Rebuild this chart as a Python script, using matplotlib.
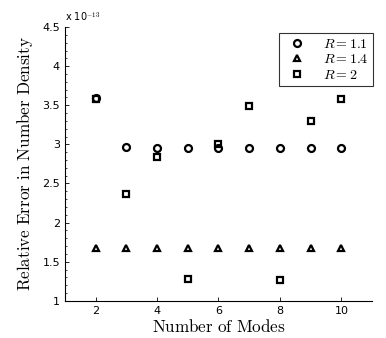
import matplotlib
matplotlib.use('Agg')
import matplotlib.pyplot as plt
from matplotlib.ticker import MultipleLocator

plt.rcParams['mathtext.fontset'] = 'cm'
plt.rcParams['font.family'] = 'DejaVu Sans'

modes = [2, 3, 4, 5, 6, 7, 8, 9, 10]
r11 = [3.59, 2.97, 2.96, 2.95, 2.95, 2.95, 2.95, 2.95, 2.95]
r14 = [1.67, 1.67, 1.67, 1.67, 1.67, 1.67, 1.67, 1.67, 1.67]
r2 = [3.58, 2.37, 2.84, 1.28, 3.01, 3.49, 1.27, 3.30, 3.58]

fig = plt.figure(figsize=(3.86, 3.38), dpi=100)
ax = fig.add_axes([0.168, 0.110, 0.796, 0.810])

mk = dict(linestyle='none', color='k', markerfacecolor='none', markeredgewidth=1.6, markersize=5)
ax.plot(modes, r11, marker='o', label=r'$R = 1.1$', **mk)
ax.plot(modes, r14, marker='^', label=r'$R = 1.4$', **mk)
ax.plot(modes, r2, marker='s', label=r'$R = 2$', **{**mk, 'markersize': 4.2})

ax.set_xlim(1, 11)
ax.set_ylim(1, 4.5)
ax.set_xticks([2, 4, 6, 8, 10])
ax.set_yticks([1, 1.5, 2, 2.5, 3, 3.5, 4, 4.5])
ax.set_yticklabels(['1', '1.5', '2', '2.5', '3', '3.5', '4', '4.5'])
ax.yaxis.set_minor_locator(MultipleLocator(0.1))
ax.tick_params(direction='in', labelsize=8, length=3, width=0.6)
ax.tick_params(which='minor', direction='in', length=1.5, width=0.5)
for s in ['top', 'right']:
    ax.spines[s].set_visible(False)
for s in ['left', 'bottom']:
    ax.spines[s].set_linewidth(0.8)

ax.set_xlabel(r'$\mathrm{Number\ of\ Modes}$', fontsize=12.3, labelpad=2)
ax.set_ylabel(r'$\mathrm{Relative\ Error\ in\ Number\ Density}$', fontsize=12.3, labelpad=5)
ax.text(0.0, 1.01, r'x 10$^{-13}$', transform=ax.transAxes, fontsize=7, va='bottom', ha='left')

leg = ax.legend(loc='upper right', bbox_to_anchor=(1.025, 1.005), fontsize=10, frameon=True,
                fancybox=False, edgecolor='k', borderpad=0.3, labelspacing=0.1, handletextpad=0.9)
leg.get_frame().set_linewidth(0.8)

fig.savefig('out.png', dpi=100)
